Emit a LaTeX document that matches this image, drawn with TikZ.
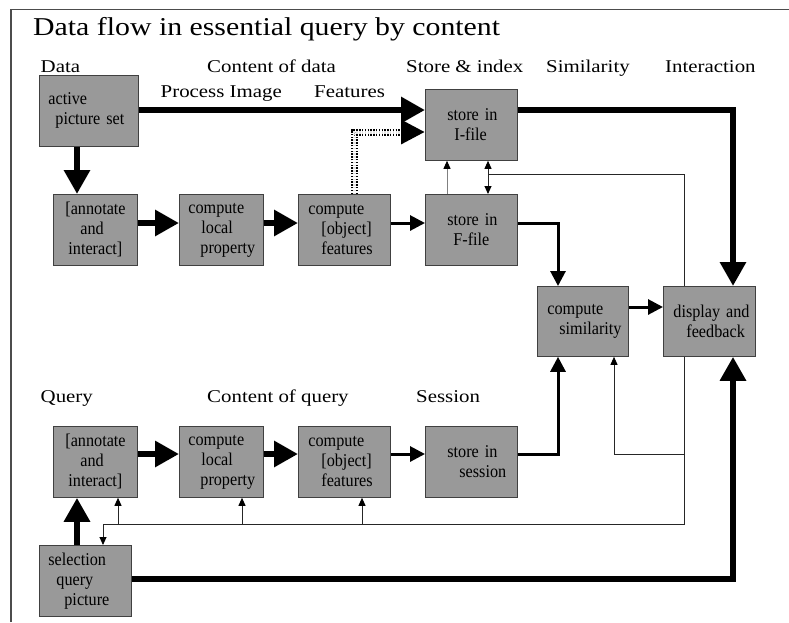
\documentclass[tikz,border=0pt]{standalone}
\usepackage{fontspec}
\setmainfont{Liberation Serif}[FakeStretch=1.16]
\newfontfamily\boxfont{Liberation Serif}[FakeStretch=0.9]
\usetikzlibrary{arrows.meta}
\definecolor{boxgray}{RGB}{153,153,153}
\definecolor{boxedge}{RGB}{64,64,64}
\begin{document}
\begin{tikzpicture}[x=1pt,y=-1pt,
  box/.style={draw=boxedge, line width=0.8pt, fill=boxgray, inner xsep=0pt, inner ysep=0pt,
    align=left, anchor=north west, minimum height=71pt,
    font=\boxfont\fontsize{18}{20}\selectfont},
  hdr/.style={anchor=base west, inner sep=0pt, font=\fontsize{18}{20}\selectfont},
  thickA/.style={line width=6.5pt, -{Triangle[length=24pt,width=25pt]}},
  medA/.style={line width=3pt, -{Triangle[length=15pt,width=15pt]}},
  thinL/.style={line width=0.9pt, black!85},
  thinA/.style={line width=0.9pt, black!85, -{Triangle[length=8pt,width=7pt,color=black]}},
]
\useasboundingbox (0,0) rectangle (789,622);
% frame
\draw[black!70, line width=1.2pt] (11,622) -- (11,9.5) -- (789,9.5);

% title and headers
\node[anchor=base west, inner sep=0pt, font=\fontsize{25.7}{30}\selectfont] (title) at (33,35) {Data flow in essential query by content};
\node[hdr] (hData) at (40.5,72.5) {Data};
\node[hdr] (hCont) at (207,72.5) {Content of data};
\node[hdr] (hProc) at (160.5,97.5) {Process Image};
\node[hdr] (hFeat) at (314,97.5) {Features};
\node[hdr] (hStore) at (406,72.5) {Store \& index};
\node[hdr] (hSim) at (546,72.5) {Similarity};
\node[hdr] (hInt) at (665,72.5) {Interaction};
\node[hdr] (hQuery) at (40.5,402) {Query};
\node[hdr] (hContQ) at (207,402) {Content of query};
\node[hdr] (hSess) at (416,402) {Session};

% boxes: data row
\node[box, minimum width=99pt, text width=99pt] (ap) at (39,75) {\hspace*{9pt}active\\\hspace*{16pt}picture set};
\node[box, minimum width=84pt, text width=84pt] (da) at (53,194) {\hspace*{12pt}[annotate\\\hspace*{27pt}and\\\hspace*{15pt}interact]};
\node[box, minimum width=84pt, text width=84pt] (dl) at (179,194) {\hspace*{9pt}compute\\\hspace*{22pt}local\\\hspace*{21pt}property};
\node[box, minimum width=92pt, text width=92pt] (dob) at (298,194) {\hspace*{10pt}compute\\\hspace*{23pt}[object]\\\hspace*{23pt}features};
\node[box, minimum width=92pt, text width=92pt] (fi) at (425,89) {\hspace*{22pt}store in\\\hspace*{29pt}I-file};
\node[box, minimum width=92pt, text width=92pt] (ff) at (425,194) {\hspace*{22pt}store in\\\hspace*{28pt}F-file};
\node[box, minimum width=91pt, text width=91pt, minimum height=70pt] (sim) at (537,286) {\hspace*{10pt}compute\\\hspace*{22pt}similarity};
\node[box, minimum width=92pt, text width=92pt, minimum height=70pt] (disp) at (663,286) {\hspace*{10pt}display and\\\hspace*{23pt}feedback};
% query row
\node[box, minimum width=84pt, text width=84pt] (qa) at (53,426) {\hspace*{12pt}[annotate\\\hspace*{27pt}and\\\hspace*{15pt}interact]};
\node[box, minimum width=84pt, text width=84pt] (ql) at (179,426) {\hspace*{9pt}compute\\\hspace*{22pt}local\\\hspace*{21pt}property};
\node[box, minimum width=92pt, text width=92pt] (qob) at (298,426) {\hspace*{10pt}compute\\\hspace*{23pt}[object]\\\hspace*{23pt}features};
\node[box, minimum width=92pt, text width=92pt] (ses) at (425,426) {\hspace*{22pt}store in\\\hspace*{34pt}session};
\node[box, minimum width=92pt, text width=92pt] (sel) at (39,545) {\hspace*{9pt}selection\\\hspace*{17pt}query\\\hspace*{25pt}picture};

% helper coordinates
\coordinate (c77) at (77,0);
\coordinate (c103) at (103,0);
\coordinate (c118) at (118,0);
\coordinate (c242) at (242,0);
\coordinate (c354) at (354,0);
\coordinate (c362) at (362,0);
\coordinate (c447) at (447,0);
\coordinate (c488) at (488,0);
\coordinate (c558) at (558,0);
\coordinate (c614) at (614,0);
\coordinate (c684) at (684,0);
\coordinate (c733) at (733,0);
\coordinate (r110) at (0,110);
\coordinate (r132) at (0,132);
\coordinate (r174) at (0,174);
\coordinate (r223) at (0,223);
\coordinate (r307) at (0,307);
\coordinate (r454) at (0,454);
\coordinate (r524) at (0,524);
\coordinate (r579) at (0,579);

% data flow
\draw[thickA] (ap.east |- r110) -- (fi.west |- r110);
\draw[thickA] (ap.south -| c77) -- (da.north -| c77);
\draw[thickA] (da.east |- r223) -- (dl.west |- r223);
\draw[thickA] (dl.east |- r223) -- (dob.west |- r223);
\draw[medA] (dob.east |- r223) -- (ff.west |- r223);
\draw[line width=7pt, black, dash pattern=on 1.4pt off 1.4pt, -{Triangle[length=24pt,width=23pt]}] (dob.north -| c354) |- (fi.west |- r132);
\draw[line width=3pt, white!80!gray, dash pattern=on 1.4pt off 1.4pt, shorten >=24pt] (dob.north -| c354) |- (fi.west |- r132);
\draw[line width=0.9pt, gray, -{Triangle[length=8pt,width=7pt,color=black]}] (ff.north -| c447) -- (fi.south -| c447);
\draw[thinL, {Triangle[length=8pt,width=7pt,color=black]}-{Triangle[length=8pt,width=7pt,color=black]}] (fi.south -| c488) -- (ff.north -| c488);
\draw[thinL] (c488 |- r174) -| (disp.north -| c684);
\draw[thickA] (fi.east |- r110) -| (disp.north -| c733);
\draw[medA] (ff.east |- r223) -| (sim.north -| c558);
\draw[medA] (sim.east |- r307) -- (disp.west |- r307);

% query flow
\draw[thickA] (sel.north -| c77) -- (qa.south -| c77);
\draw[thickA] (qa.east |- r454) -- (ql.west |- r454);
\draw[thickA] (ql.east |- r454) -- (qob.west |- r454);
\draw[medA] (qob.east |- r454) -- (ses.west |- r454);
\draw[medA] (ses.east |- r454) -| (sim.south -| c558);
\draw[thickA] (sel.east |- r579) -| (disp.south -| c733);

% feedback lines
\draw[thinA] (disp.south -| c684) |- (c103 |- r524) -- (sel.north -| c103);
\draw[thinA] (c684 |- r454) -| (sim.south -| c614);
\draw[thinA] (c118 |- r524) -- (qa.south -| c118);
\draw[thinA] (c242 |- r524) -- (ql.south -| c242);
\draw[thinA] (c362 |- r524) -- (qob.south -| c362);
\end{tikzpicture}
\end{document}
